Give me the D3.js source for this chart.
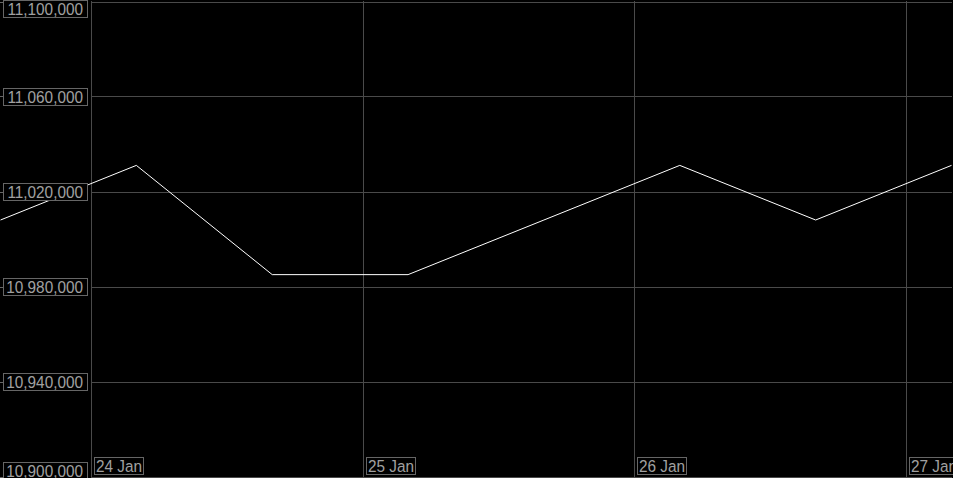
<!DOCTYPE html>
<html>
<head>
<meta charset="utf-8">
<script src="https://cdn.jsdelivr.net/npm/d3@7"></script>
<style>
  body { margin: 0; background: #000; overflow: hidden; }
  text { font-family: "Liberation Sans", Arial, sans-serif; font-size: 16.5px; fill: #a0a0a0; }
</style>
</head>
<body>
<div id="chart"></div>
<script>
// data (12 hour steps)
var times = ["2024-01-23T16:00Z", "2024-01-24T04:00Z", "2024-01-24T16:00Z", "2024-01-25T04:00Z",
             "2024-01-25T16:00Z", "2024-01-26T04:00Z", "2024-01-26T16:00Z", "2024-01-27T04:00Z"];
var values = [11008000, 11031000, 10985000, 10985000, 11008000, 11031000, 11008000, 11031000];
var yTicks = [10900000, 10940000, 10980000, 11020000, 11060000, 11100000];
var xTicks = ["2024-01-24T00:00Z", "2024-01-25T00:00Z", "2024-01-26T00:00Z", "2024-01-27T00:00Z"];
var xTickLabels = ["24 Jan", "25 Jan", "26 Jan", "27 Jan"];

var width = 953, height = 478;

var data = times.map(function(t, i) { return {date: new Date(t), value: values[i]}; });

const mysvg = d3.select('#chart')
    .append("svg")
    .attr("width", width)
    .attr("height", height);

var x = d3.scaleUtc()
    .domain([new Date(times[0]), new Date(times[times.length - 1])])
    .range([0.5, 951.5]);

var y = d3.scaleLinear()
    .domain([10900000, 11100000])
    .range([476.5, 1.5]);

var fmt = d3.format(",");

// horizontal grid
mysvg.append("g")
    .selectAll("line")
    .data(yTicks)
    .join("line")
    .attr("x1", 91)
    .attr("x2", 952)
    .attr("y1", d => Math.round(y(d)) + 0.5)
    .attr("y2", d => Math.round(y(d)) + 0.5)
    .attr("stroke", "#4a4a4a");

// small tick marks at left
mysvg.append("g")
    .selectAll("line")
    .data(yTicks)
    .join("line")
    .attr("x1", 0)
    .attr("x2", 3)
    .attr("y1", d => Math.round(y(d)) + 0.5)
    .attr("y2", d => Math.round(y(d)) + 0.5)
    .attr("stroke", "#666");

// vertical grid
mysvg.append("g")
    .selectAll("line")
    .data(xTicks)
    .join("line")
    .attr("x1", d => Math.round(x(new Date(d))) + 0.5)
    .attr("x2", d => Math.round(x(new Date(d))) + 0.5)
    .attr("y1", 1)
    .attr("y2", 477)
    .attr("stroke", "#4a4a4a");

// the line
var line = d3.line()
    .x(d => x(d.date))
    .y(d => y(d.value));

mysvg.append("path")
    .datum(data)
    .attr("fill", "none")
    .attr("stroke", "#fff")
    .attr("stroke-width", 1)
    .attr("d", line);

// y labels with boxes
var ylab = mysvg.append("g")
    .selectAll("g")
    .data(yTicks)
    .join("g")
    .attr("transform", function(d) {
        var cy = Math.min(Math.max(y(d), 8.5), 470.5);
        return `translate(0, ${cy})`;
    });

ylab.append("rect")
    .attr("x", 3.5)
    .attr("y", -8)
    .attr("width", 84)
    .attr("height", 17)
    .attr("fill", "#000")
    .attr("stroke", "#666");

ylab.append("text")
    .attr("transform", "translate(83, 6.5) scale(0.93, 1)")
    .attr("text-anchor", "end")
    .text(d => fmt(d));

// x labels with boxes
var xlab = mysvg.append("g")
    .selectAll("g")
    .data(xTicks)
    .join("g")
    .attr("transform", d => `translate(${Math.round(x(new Date(d)))}, 457)`);

xlab.append("rect")
    .attr("x", 3.5)
    .attr("y", 0.5)
    .attr("width", 49)
    .attr("height", 17)
    .attr("fill", "#000")
    .attr("stroke", "#666");

xlab.append("text")
    .attr("transform", "translate(5, 14.5) scale(0.93, 1)")
    .text((d, i) => xTickLabels[i]);
</script>
</body>
</html>
